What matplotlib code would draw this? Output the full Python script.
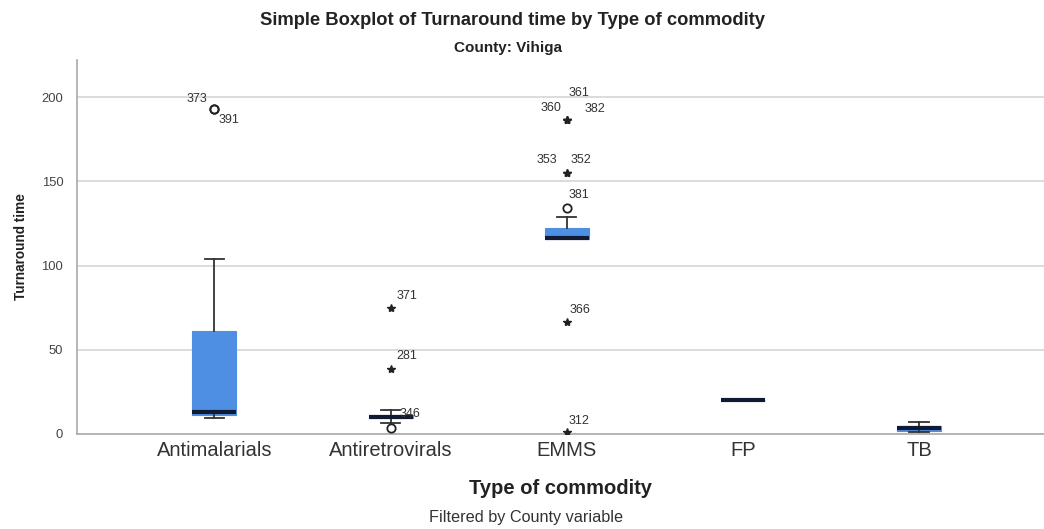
import numpy as np
import matplotlib
matplotlib.use('Agg')
import matplotlib.pyplot as plt

plt.rcParams['font.family'] = ['Liberation Sans', 'DejaVu Sans']

# box summary values
categories = ['Antimalarials', 'Antiretrovirals', 'EMMS', 'FP', 'TB']
whis_low = [9.5, 6.5, 116.0, 20.0, 1.0]
q1 = [11.3, 9.5, 116.0, 20.0, 1.5]
medians = [13.0, 10.3, 116.5, 20.0, 3.3]
q3 = [61.0, 11.3, 122.0, 20.0, 4.5]
whis_high = [104.0, 14.5, 129.0, 20.0, 7.3]

# outliers: category index, value, case id, kind ('o' mild, '*' extreme)
out_cat = [0, 0, 1, 1, 1, 2, 2, 2, 2, 2, 2, 2, 2]
out_val = [193, 193, 3.6, 38.5, 74.5, 186.5, 186.5, 186.5, 155, 155, 134.3, 66.5, 1.2]
out_ids = ['373', '391', '346', '281', '371', '361', '360', '382', '353', '352', '381', '366', '312']
out_kind = ['o', 'o', 'o', '*', '*', '*', '*', '*', '*', '*', 'o', '*', '*']

# label offsets in pixels (x, y), same order as out_ids
label_off = [(-17, 10), (15, -11), (19, 14), (16, 13), (16, 12), (12, 27), (-16, 12),
             (28, 11), (-20, 13), (14, 13), (12, 13), (13, 12), (12, 11)]

fig = plt.figure(figsize=(10.44, 5.29), dpi=100)
ax = fig.add_axes([0.0738, 0.1796, 0.9262, 0.707])

stats = []
for i, name in enumerate(categories):
    stats.append(dict(label=name, whislo=whis_low[i], q1=q1[i], med=medians[i],
                      q3=q3[i], whishi=whis_high[i], fliers=[]))

pos = np.arange(len(categories))
ax.bxp(stats, positions=pos, widths=0.25, patch_artist=True, showfliers=False,
       boxprops=dict(facecolor='#4f8fe3', edgecolor='#4f8fe3', linewidth=0.8),
       medianprops=dict(color='#111a33', linewidth=3),
       whiskerprops=dict(color='#333333', linewidth=1.3),
       capprops=dict(color='#333333', linewidth=1.3),
       capwidths=0.11)

for c, v, lab, k, off in zip(out_cat, out_val, out_ids, out_kind, label_off):
    if k == 'o':
        ax.plot(pos[c], v, marker='o', markersize=6, markerfacecolor='none',
                markeredgecolor='#222222', markeredgewidth=1.3, zorder=4)
    else:
        ax.plot(pos[c], v, marker='*', markersize=6, color='#222222', zorder=4)
    ax.annotate(lab, (pos[c], v), xytext=off, textcoords='offset pixels',
                ha='center', va='center', fontsize=9, color='#333333')

ax.set_xlim(-0.78, 4.71)
ax.set_ylim(0, 222)
ax.set_yticks([0, 50, 100, 150, 200])
ax.set_xticks(pos)
ax.set_xticklabels(categories, fontsize=14.5, color='#333333')
ax.tick_params(axis='y', labelsize=9.4, labelcolor='#444444', length=0, pad=10)
ax.tick_params(axis='x', length=0, pad=5)
ax.grid(axis='y', color='#d6d6d6', linewidth=1.2)
ax.set_axisbelow(True)
for s in ['top', 'right']:
    ax.spines[s].set_visible(False)
for s in ['left', 'bottom']:
    ax.spines[s].set_color('#aaaaaa')
    ax.spines[s].set_linewidth(1.2)

ax.set_ylabel('Turnaround time', fontsize=9.8, fontweight='bold', color='#222222', labelpad=10)
ax.set_xlabel('Type of commodity', fontsize=14.5, fontweight='bold', color='#222222', labelpad=14)

fig.text(0.4909, 0.962, 'Simple Boxplot of Turnaround time by Type of commodity',
         ha='center', va='center', fontsize=13.2, fontweight='bold', color='#222222')
fig.text(0.4866, 0.91, 'County: Vihiga', ha='center', va='center',
         fontsize=11, fontweight='bold', color='#222222')
fig.text(0.504, 0.022, 'Filtered by County variable', ha='center', va='center',
         fontsize=11.7, color='#333333')

fig.savefig('out.png', dpi=100)
